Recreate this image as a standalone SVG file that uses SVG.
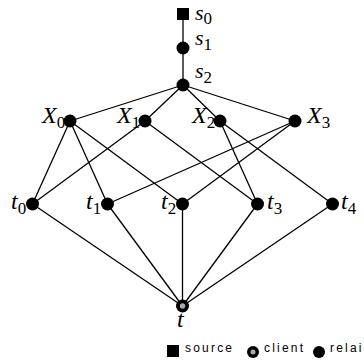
<svg xmlns="http://www.w3.org/2000/svg" width="364" height="360" viewBox="0 0 364 360">
<style>
.e{stroke:#000;stroke-width:1.3;fill:none}
.n{fill:#000}
.lb{font-family:"Liberation Serif",serif;font-style:italic;font-size:24px;fill:#000}
.ls{font-size:22px}
.sb{font-size:17px;font-style:normal}
.lg{font-family:"Liberation Sans",Arial,sans-serif;font-size:12px;letter-spacing:2.2px;fill:#000}
</style>
<rect width="364" height="360" fill="#fff"/>
<g id="edges" class="e">
<line x1="183" y1="14" x2="183" y2="48"/>
<line x1="183" y1="48" x2="183" y2="85"/>
<line x1="183" y1="85" x2="70" y2="121"/>
<line x1="183" y1="85" x2="145" y2="121"/>
<line x1="183" y1="85" x2="220" y2="121"/>
<line x1="183" y1="85" x2="295" y2="121"/>
<line x1="70" y1="121" x2="32.5" y2="204"/>
<line x1="70" y1="121" x2="107.5" y2="204"/>
<line x1="70" y1="121" x2="182.5" y2="204"/>
<line x1="145" y1="121" x2="32.5" y2="204"/>
<line x1="145" y1="121" x2="257.5" y2="204"/>
<line x1="220" y1="121" x2="257.5" y2="204"/>
<line x1="220" y1="121" x2="332.5" y2="204"/>
<line x1="295" y1="121" x2="107.5" y2="204"/>
<line x1="295" y1="121" x2="182.5" y2="204"/>
<line x1="32.5" y1="204" x2="182.5" y2="306"/>
<line x1="107.5" y1="204" x2="182.5" y2="306"/>
<line x1="182.5" y1="204" x2="182.5" y2="306"/>
<line x1="257.5" y1="204" x2="182.5" y2="306"/>
<line x1="332.5" y1="204" x2="182.5" y2="306"/>
</g>
<g id="s0"><rect class="n" x="177" y="8" width="12" height="12"/><text class="lb ls" x="195" y="20">s<tspan class="sb" dy="4">0</tspan></text></g>
<g id="s1"><circle class="n" cx="183" cy="48" r="6.5"/><text class="lb ls" x="195" y="45">s<tspan class="sb" dy="5">1</tspan></text></g>
<g id="s2"><circle class="n" cx="183" cy="85" r="6.5"/><text class="lb ls" x="195" y="78">s<tspan class="sb" dy="5">2</tspan></text></g>
<g id="X0"><text class="lb" x="42" y="123">X<tspan class="sb" dy="5">0</tspan></text><circle class="n" cx="70" cy="121" r="6.5"/></g>
<g id="X1"><text class="lb" x="117" y="123">X<tspan class="sb" dy="5">1</tspan></text><circle class="n" cx="145" cy="121" r="6.5"/></g>
<g id="X2"><text class="lb" x="192" y="123">X<tspan class="sb" dy="5">2</tspan></text><circle class="n" cx="220" cy="121" r="6.5"/></g>
<g id="X3"><text class="lb" x="307" y="123">X<tspan class="sb" dy="5">3</tspan></text><circle class="n" cx="295" cy="121" r="6.5"/></g>
<g id="t0"><text class="lb" x="11" y="209">t<tspan class="sb" dy="5">0</tspan></text><circle class="n" cx="32.5" cy="204" r="6.5"/></g>
<g id="t1"><text class="lb" x="86" y="209">t<tspan class="sb" dy="5">1</tspan></text><circle class="n" cx="107.5" cy="204" r="6.5"/></g>
<g id="t2"><text class="lb" x="161" y="209">t<tspan class="sb" dy="5">2</tspan></text><circle class="n" cx="182.5" cy="204" r="6.5"/></g>
<g id="t3"><text class="lb" x="267" y="209">t<tspan class="sb" dy="5">3</tspan></text><circle class="n" cx="257.5" cy="204" r="6.5"/></g>
<g id="t4"><text class="lb" x="341" y="209">t<tspan class="sb" dy="5">4</tspan></text><circle class="n" cx="332.5" cy="204" r="6.5"/></g>
<g id="t"><circle class="n" cx="182.5" cy="306" r="6.5"/><circle cx="182.5" cy="306" r="2.7" fill="#aaa"/><text class="lb" x="177" y="327">t</text></g>
<g id="legend">
<rect class="n" x="167" y="345" width="12" height="12"/>
<text class="lg" x="185" y="352">source</text>
<circle class="n" cx="253" cy="352" r="6"/><circle cx="253" cy="352" r="2.5" fill="#aaa"/>
<text class="lg" x="264" y="352">client</text>
<circle class="n" cx="319" cy="352" r="6"/>
<text class="lg" x="330" y="352">relai</text>
</g>
</svg>
